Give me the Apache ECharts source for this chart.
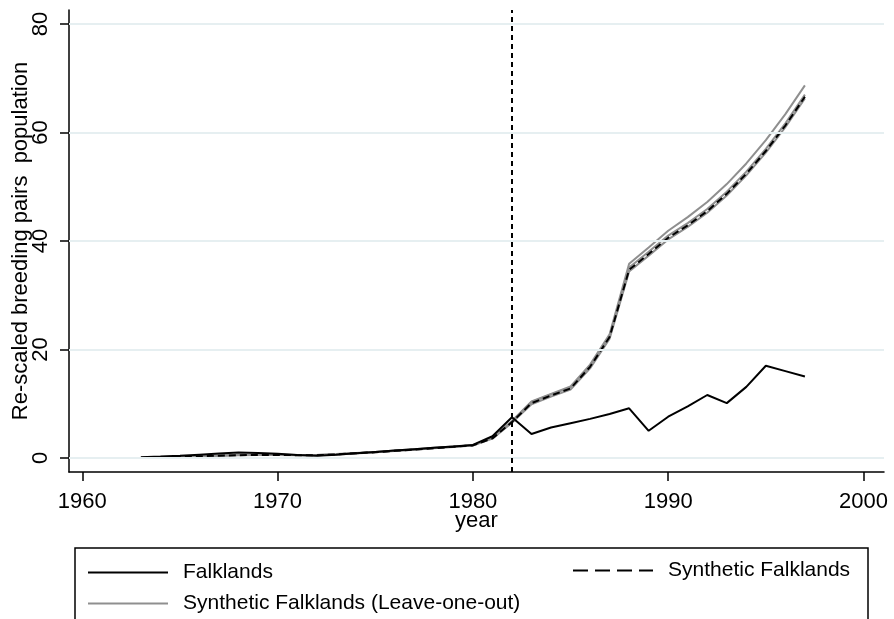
<!DOCTYPE html>
<html>
<head>
<meta charset="utf-8">
<script src="https://cdn.jsdelivr.net/npm/echarts@6/dist/echarts.min.js"></script>
<style>
html,body{margin:0;padding:0;background:#fff;}
#chart{width:894px;height:619px;}
</style>
</head>
<body>
<div id="chart"></div>
<script>
const years = [1963,1964,1965,1966,1967,1968,1969,1970,1971,1972,1973,1974,1975,1976,1977,1978,1979,1980,1981,1982,1983,1984,1985,1986,1987,1988,1989,1990,1991,1992,1993,1994,1995,1996,1997];
const falklands = [0.13,0.25,0.4,0.6,0.8,1.0,0.9,0.75,0.55,0.4,0.6,0.85,1.1,1.35,1.6,1.85,2.1,2.4,4.0,7.5,4.4,5.6,6.4,7.2,8.1,9.15,5.0,7.6,9.5,11.6,10.1,13.1,17.0,16.0,15.0];
const synthetic = [0.0,0.1,0.2,0.3,0.4,0.5,0.55,0.55,0.5,0.5,0.65,0.85,1.05,1.3,1.55,1.8,2.05,2.3,3.6,6.6,10.1,11.5,12.8,16.8,22.3,34.7,37.6,40.6,42.9,45.5,48.7,52.4,56.6,61.3,66.6];
const looA = [0.05,0.15,0.25,0.35,0.45,0.55,0.6,0.6,0.55,0.55,0.7,0.9,1.1,1.35,1.6,1.85,2.1,2.35,3.7,6.8,10.4,11.8,13.2,17.2,22.8,35.8,38.8,41.9,44.4,47.2,50.5,54.3,58.6,63.4,68.7];
const looB = [0.0,0.08,0.18,0.28,0.38,0.48,0.52,0.52,0.48,0.48,0.62,0.82,1.02,1.27,1.52,1.77,2.02,2.27,3.55,6.5,9.9,11.3,12.6,16.5,22.0,34.4,37.3,40.3,42.6,45.2,48.4,52.1,56.3,61.0,66.3];
const looC = [0.02,0.12,0.22,0.32,0.42,0.52,0.57,0.57,0.52,0.52,0.67,0.87,1.07,1.32,1.57,1.82,2.07,2.33,3.65,6.7,10.3,11.7,13.0,17.0,22.5,35.1,38.0,41.0,43.3,45.9,49.1,52.8,57.0,61.7,67.0];
const xTicks = [1960,1970,1980,1990,2000];
const yTicks = [0,20,40,60,80];
const treatYear = 1982;

const pairs = v => years.map((y,i)=>[y,v[i]]);
const FONT = "'Liberation Sans', Arial, sans-serif";
const greyStyle = {color:'#8f8f8f', width:2};
const legendItemStyle = {color:'rgba(0,0,0,0)', borderColor:'rgba(0,0,0,0)', borderWidth:0};

const chart = echarts.init(document.getElementById('chart'), null, {renderer:'canvas'});
chart.setOption({
  animation:false,
  backgroundColor:'#ffffff',
  textStyle:{fontFamily:FONT},
  grid:{left:69, top:10, right:10, bottom:147, containLabel:false, outerBoundsMode:'none'},
  xAxis:{
    type:'value', min:1959.32, max:2001.05,
    name:'year', nameLocation:'middle', nameGap:38, nameMoveOverlap:false,
    nameTextStyle:{fontSize:22, color:'#000', fontFamily:FONT},
    axisLine:{show:true, onZero:false, lineStyle:{color:'#000', width:1.5}},
    axisTick:{show:true, customValues:xTicks, length:9, lineStyle:{color:'#000', width:1.5}},
    axisLabel:{customValues:xTicks, fontSize:22, color:'#000', margin:19, fontFamily:FONT, formatter:v=>String(v)},
    splitLine:{show:false}
  },
  yAxis:{
    type:'value', min:-2.6, max:82.6,
    name:'Re-scaled breeding pairs  population', nameLocation:'middle', nameGap:37, nameRotate:90, nameMoveOverlap:false,
    nameTextStyle:{fontSize:22, color:'#000', fontFamily:FONT},
    axisLine:{show:true, onZero:false, lineStyle:{color:'#000', width:1.5}},
    axisTick:{show:true, customValues:yTicks, length:9, lineStyle:{color:'#000', width:1.5}},
    axisLabel:{customValues:yTicks, rotate:90, fontSize:22, color:'#000', margin:17, fontFamily:FONT, formatter:v=>String(v)},
    splitLine:{show:false}
  },
  legend:[
    {orient:'vertical', left:87, top:562, padding:0, itemWidth:80, itemHeight:20, itemGap:10,
     itemStyle:legendItemStyle,
     data:['Falklands','Synthetic Falklands (Leave-one-out)'],
     textStyle:{fontSize:21, color:'#000', fontFamily:FONT, padding:[0,0,0,10]}},
    {orient:'vertical', left:572, top:560, padding:0, itemWidth:80, itemHeight:20,
     itemStyle:legendItemStyle,
     lineStyle:{type:[15,7], width:2},
     data:['Synthetic Falklands'],
     textStyle:{fontSize:21, color:'#000', fontFamily:FONT, padding:[0,0,0,10]}}
  ],
  graphic:[
    {type:'rect', shape:{x:75, y:548, width:793, height:85}, style:{fill:'none', stroke:'#000', lineWidth:1.5}, silent:true}
  ],
  series:[
    {type:'line', name:'grid', data:[], z:1, silent:true,
     markLine:{silent:true, symbol:['none','none'], label:{show:false},
       lineStyle:{color:'#e6eff1', width:2, type:'solid'},
       data: yTicks.map(v=>({yAxis:v}))}},
    {type:'line', name:'Synthetic Falklands (Leave-one-out)', data:pairs(looA), showSymbol:false, symbol:'none', lineStyle:greyStyle, itemStyle:{color:'#8f8f8f'}, z:2},
    {type:'line', name:'Synthetic Falklands (Leave-one-out)', data:pairs(looB), showSymbol:false, symbol:'none', lineStyle:greyStyle, itemStyle:{color:'#8f8f8f'}, z:2},
    {type:'line', name:'Synthetic Falklands (Leave-one-out)', data:pairs(looC), showSymbol:false, symbol:'none', lineStyle:greyStyle, itemStyle:{color:'#8f8f8f'}, z:2},
    {type:'line', name:'Synthetic Falklands', data:pairs(synthetic), showSymbol:false, symbol:'none',
     lineStyle:{color:'#000', width:2, type:[7,4]}, itemStyle:{color:'#000'}, z:3},
    {type:'line', name:'Falklands', data:pairs(falklands), showSymbol:false, symbol:'none',
     lineStyle:{color:'#000', width:2}, itemStyle:{color:'#000'}, z:4,
     markLine:{silent:true, symbol:['none','none'], label:{show:false},
       lineStyle:{color:'#000', width:2, type:[5,4]},
       data:[{xAxis:treatYear}]}}
  ]
});
</script>
</body>
</html>
